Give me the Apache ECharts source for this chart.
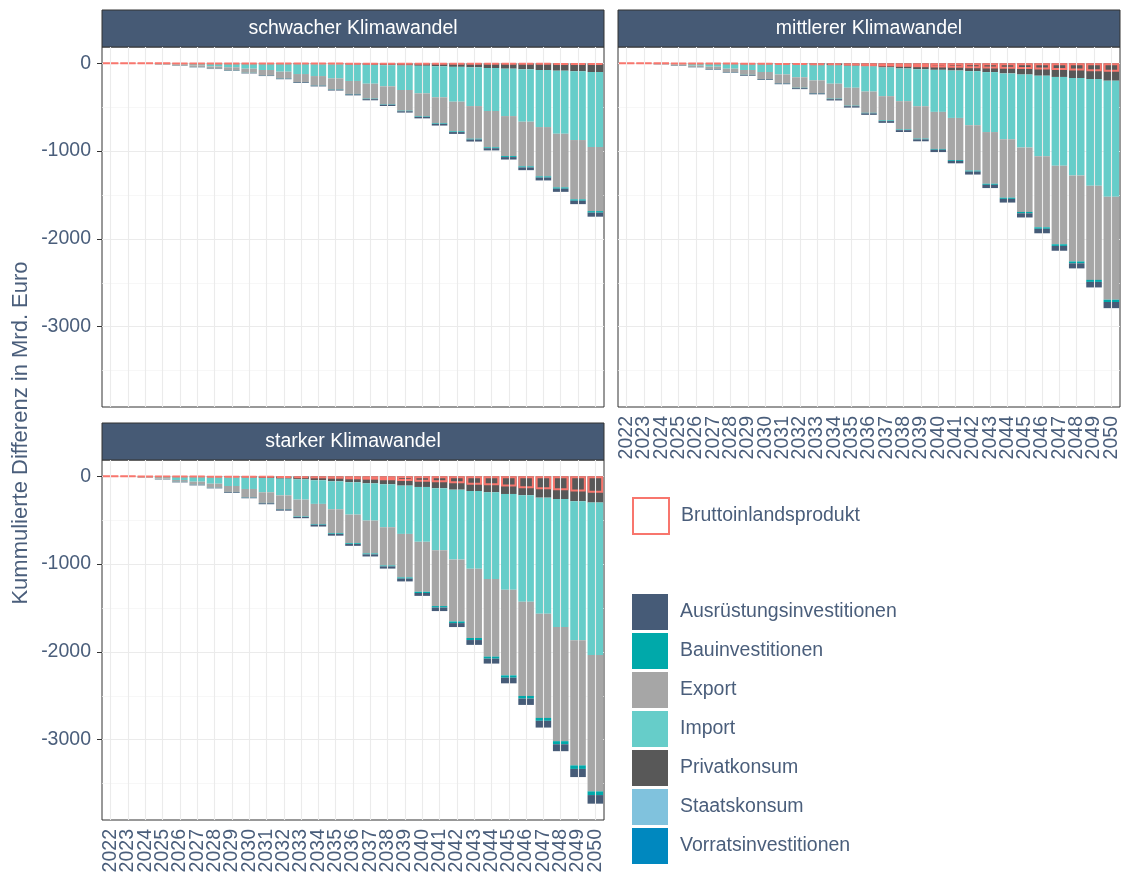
<!DOCTYPE html>
<html>
<head>
<meta charset="utf-8">
<title>Kummulierte Differenz</title>
<script src="https://cdn.jsdelivr.net/npm/echarts@6/dist/echarts.min.js"></script>
<style>
  html, body { margin: 0; padding: 0; background: #fff; }
  #chart { width: 1122px; height: 879px; }
</style>
</head>
<body>
<div id="chart"></div>
<script>
  // Jahre (x-Achse)
  var years = ['2022','2023','2024','2025','2026','2027','2028','2029','2030','2031','2032','2033','2034','2035',
               '2036','2037','2038','2039','2040','2041','2042','2043','2044','2045','2046','2047','2048','2049','2050'];
  var yTicks = [0, -1000, -2000, -3000];

  // schwacher Klimawandel
  var privat1 = [0,0,0,0,0,0,0,0,-2,-4,-6,-8,-10,-11,-15,-17,-21,-25,-28,-34,-40,-46,-53,-61,-68,-76,-84,-91,-99];
  var import1 = [-1,-1,-2,-8,-15,-23,-35,-45,-59,-72,-89,-114,-135,-160,-186,-215,-241,-279,-314,-353,-397,-441,-490,-540,-597,-650,-718,-783,-855];
  var export1 = [0,-1,-2,-6,-11,-19,-26,-36,-47,-61,-76,-91,-106,-125,-148,-171,-205,-236,-262,-296,-338,-372,-414,-456,-509,-562,-612,-676,-730];
  var bau1    = [0,0,0,-1,-1,-1,-1,-2,-2,-2,-3,-3,-3,-4,-5,-5,-5,-6,-6,-7,-8,-9,-10,-11,-12,-13,-14,-15,-17];
  var ausr1   = [0,0,-1,-1,-2,-3,-3,-4,-5,-6,-7,-8,-9,-10,-11,-13,-14,-15,-17,-19,-21,-23,-25,-28,-31,-33,-36,-39,-46];
  var staat1  = [0,0,0,0,0,0,0,0,0,0,0,0,0,0,0,0,0,0,0,0,0,0,0,0,0,0,0,0,0];
  var vorrat1 = [0,0,0,0,0,0,0,0,0,0,0,0,0,0,0,0,0,0,0,0,0,0,0,0,0,0,0,0,0];
  var bip1    = [-1,-1,-1,-1,-2,-2,-3,-3,-4,-4,-5,-5,-6,-6,-7,-7,-8,-8,-9,-9,-10,-10,-11,-11,-12,-12,-13,-14,-15];

  // mittlerer Klimawandel
  var privat2 = [0,0,0,0,0,0,-2,-4,-6,-8,-11,-15,-19,-27,-36,-47,-59,-67,-74,-82,-89,-100,-115,-128,-141,-155,-167,-179,-198];
  var import2 = [-1,-2,-6,-15,-27,-38,-59,-72,-93,-118,-148,-179,-213,-251,-285,-327,-372,-422,-479,-540,-616,-683,-751,-832,-918,-1013,-1110,-1216,-1321];
  var export2 = [0,-1,-6,-11,-15,-27,-38,-55,-80,-100,-120,-144,-171,-205,-243,-277,-323,-369,-422,-479,-517,-589,-665,-733,-809,-893,-980,-1072,-1174];
  var bau2    = [0,0,0,-1,-1,-2,-2,-3,-3,-3,-4,-4,-5,-5,-6,-7,-7,-8,-9,-10,-11,-12,-13,-15,-17,-19,-21,-23,-26];
  var ausr2   = [0,0,-2,-3,-3,-6,-6,-8,-8,-9,-11,-11,-15,-16,-17,-20,-21,-22,-27,-28,-34,-37,-42,-48,-51,-55,-58,-63,-70];
  var staat2  = [0,0,0,0,0,0,0,0,0,0,0,0,0,0,0,0,0,0,0,0,0,0,0,0,0,0,0,0,0];
  var vorrat2 = [0,0,0,0,0,0,0,0,0,0,0,0,0,0,0,0,0,0,0,0,0,0,0,0,0,0,0,0,0];
  var bip2    = [-1,-1,-1,-2,-3,-4,-6,-8,-10,-13,-16,-19,-22,-25,-30,-35,-40,-44,-48,-51,-55,-58,-62,-66,-70,-76,-82,-89,-97];

  // starker Klimawandel
  var privat3 = [0,0,0,-2,-4,-4,-8,-11,-15,-19,-27,-34,-45,-57,-68,-80,-91,-106,-121,-136,-152,-167,-182,-201,-216,-243,-258,-284,-299];
  var import3 = [-1,-2,-8,-21,-38,-57,-76,-99,-129,-163,-190,-231,-269,-318,-368,-424,-489,-550,-625,-705,-796,-887,-989,-1092,-1213,-1323,-1459,-1584,-1736];
  var export3 = [0,-1,-6,-11,-19,-34,-45,-68,-95,-121,-155,-193,-231,-273,-326,-375,-436,-496,-569,-637,-705,-788,-883,-974,-1073,-1186,-1300,-1425,-1554];
  var bau3    = [0,0,-1,-1,-2,-2,-2,-3,-3,-4,-5,-5,-7,-8,-9,-10,-10,-13,-14,-17,-19,-23,-23,-27,-30,-33,-35,-40,-42];
  var ausr3   = [0,0,-1,-3,-6,-6,-6,-8,-8,-11,-14,-14,-20,-20,-21,-24,-25,-32,-33,-40,-45,-55,-56,-64,-72,-77,-79,-93,-98];
  var staat3  = [0,0,0,0,0,0,0,0,0,0,0,0,0,0,0,0,0,0,0,0,0,0,0,0,0,0,0,0,0];
  var vorrat3 = [0,0,0,0,0,0,0,0,0,0,0,0,0,0,0,0,0,0,0,0,0,0,0,0,0,0,0,0,0];
  var bip3    = [-1,-1,-2,-3,-4,-5,-7,-8,-9,-11,-15,-19,-23,-27,-34,-38,-45,-53,-61,-68,-80,-95,-102,-117,-136,-148,-159,-174,-186];

  var legendNames = ['Ausrüstungsinvestitionen','Bauinvestitionen','Export','Import','Privatkonsum','Staatskonsum','Vorratsinvestitionen'];
  var colors = {
    'Ausrüstungsinvestitionen': '#465B77',
    'Bauinvestitionen': '#00A9AA',
    'Export': '#A6A6A6',
    'Import': '#66CDC9',
    'Privatkonsum': '#585858',
    'Staatskonsum': '#80C2DD',
    'Vorratsinvestitionen': '#0088BF'
  };

  var panels = [
    { title: 'schwacher Klimawandel', left: 102, top: 47, yLabels: true, xLabels: false,
      parts: [['Privatkonsum', privat1], ['Import', import1], ['Export', export1], ['Bauinvestitionen', bau1],
              ['Ausrüstungsinvestitionen', ausr1], ['Staatskonsum', staat1], ['Vorratsinvestitionen', vorrat1]], bip: bip1 },
    { title: 'mittlerer Klimawandel', left: 618, top: 47, yLabels: false, xLabels: true,
      parts: [['Privatkonsum', privat2], ['Import', import2], ['Export', export2], ['Bauinvestitionen', bau2],
              ['Ausrüstungsinvestitionen', ausr2], ['Staatskonsum', staat2], ['Vorratsinvestitionen', vorrat2]], bip: bip2 },
    { title: 'starker Klimawandel', left: 102, top: 460, yLabels: true, xLabels: true,
      parts: [['Privatkonsum', privat3], ['Import', import3], ['Export', export3], ['Bauinvestitionen', bau3],
              ['Ausrüstungsinvestitionen', ausr3], ['Staatskonsum', staat3], ['Vorratsinvestitionen', vorrat3]], bip: bip3 }
  ];

  var font = 'Liberation Sans, Arial, sans-serif';
  var textColor = '#4A5E7B';
  var panelW = 502, panelH = 360, stripH = 37;

  var grids = [], xAxes = [], yAxes = [], series = [], graphics = [];

  panels.forEach(function (p, i) {
    grids.push({ left: p.left, top: p.top, width: panelW, height: panelH, show: true,
                 backgroundColor: '#fff', borderColor: '#333', borderWidth: 1 });
    xAxes.push({
      type: 'category', gridIndex: i, data: years, boundaryGap: true,
      axisLine: { show: false },
      axisTick: { show: p.xLabels, alignWithLabel: true, length: 5, lineStyle: { color: '#333' } },
      axisLabel: { show: p.xLabels, interval: 0, rotate: 90, color: textColor, fontSize: 19.5, fontFamily: font, margin: 9 },
      splitLine: { show: false }
    });
    yAxes.push({
      type: 'value', gridIndex: i, min: -3915, max: 186,
      axisLine: { show: false },
      axisTick: { show: p.yLabels, length: 5, customValues: yTicks, lineStyle: { color: '#333' } },
      axisLabel: { show: p.yLabels, customValues: yTicks,
                   formatter: function (v) { return String(v); },
                   color: textColor, fontSize: 19.5, fontFamily: font, margin: 11 },
      splitLine: { lineStyle: { color: '#EBEBEB', width: 1.1 } },
      minorTick: { show: false, splitNumber: 2 },
      minorSplitLine: { show: true, lineStyle: { color: '#F3F3F3', width: 0.7 } }
    });

    // senkrechte Gitterlinien in der Mitte der Kategorien
    series.push({
      type: 'line', xAxisIndex: i, yAxisIndex: i, data: [], z: 1, silent: true,
      markLine: {
        silent: true, symbol: ['none', 'none'], label: { show: false }, animation: false,
        lineStyle: { color: '#EBEBEB', width: 1.1, type: 'solid' },
        data: years.map(function (y) { return { xAxis: y }; })
      }
    });

    p.parts.forEach(function (part) {
      series.push({
        name: part[0], type: 'bar', stack: 'p' + i, xAxisIndex: i, yAxisIndex: i,
        data: part[1], barWidth: '90%', barGap: '-100%',
        itemStyle: { color: colors[part[0]] }
      });
    });

    series.push({
      name: 'Bruttoinlandsprodukt', type: 'bar', xAxisIndex: i, yAxisIndex: i, z: 3,
      data: p.bip, barWidth: '90%', barGap: '-100%',
      itemStyle: { color: 'rgba(0,0,0,0)', borderColor: '#F8766D', borderWidth: 2 }
    });

    // Streifen mit Titel
    graphics.push({
      type: 'rect', shape: { x: p.left, y: p.top - stripH, width: panelW, height: stripH },
      style: { fill: '#465A75', stroke: '#333', lineWidth: 1 }
    });
    graphics.push({
      type: 'text', x: p.left + panelW / 2, y: p.top - stripH / 2,
      style: { text: p.title, fill: '#fff', fontSize: 19.5, fontFamily: font, align: 'center', verticalAlign: 'middle' }
    });
  });

  graphics.push({
    type: 'text', x: 21, y: 433, rotation: Math.PI / 2,
    style: { text: 'Kummulierte Differenz in Mrd. Euro', fill: textColor, fontSize: 22, fontFamily: font,
             align: 'center', verticalAlign: 'middle' }
  });

  var legendText = { color: textColor, fontSize: 19.5, fontFamily: font, padding: [0, 0, 0, 7] };

  var chart = echarts.init(document.getElementById('chart'));
  chart.setOption({
    animation: false,
    backgroundColor: '#fff',
    grid: grids,
    xAxis: xAxes,
    yAxis: yAxes,
    legend: [
      { data: [{ name: 'Bruttoinlandsprodukt', itemStyle: { color: 'rgba(0,0,0,0)', borderColor: '#F8766D', borderWidth: 2 } }],
        left: 632, top: 497, padding: 0, itemWidth: 36, itemHeight: 36, icon: 'rect',
        selectedMode: false, textStyle: legendText },
      { data: legendNames, orient: 'vertical', left: 632, top: 594, padding: 0,
        itemWidth: 36, itemHeight: 36, itemGap: 3, icon: 'rect',
        selectedMode: false, textStyle: legendText }
    ],
    graphic: graphics,
    series: series
  });
</script>
</body>
</html>
